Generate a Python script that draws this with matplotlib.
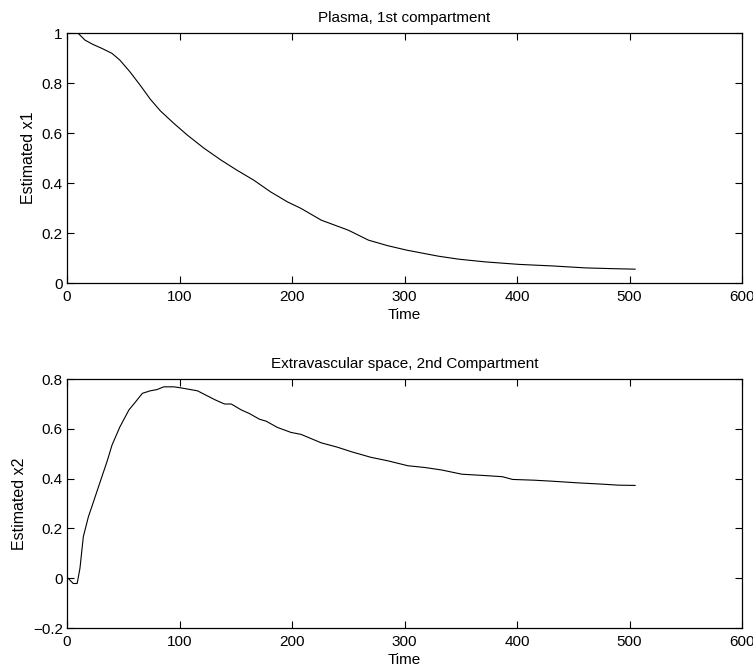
import matplotlib
matplotlib.use('Agg')
import matplotlib.pyplot as plt

# Plasma, 1st compartment
t1 = [0, 5, 10, 16, 23, 31, 40, 47, 56, 65, 74, 83, 95, 107, 122, 137, 151,
      166, 181, 196, 208, 226, 250, 268, 285, 302, 330, 348, 372, 402, 431,
      461, 485, 505]
x1 = [1.0, 1.0, 0.999, 0.972, 0.955, 0.939, 0.919, 0.892, 0.845, 0.792,
      0.736, 0.689, 0.639, 0.592, 0.539, 0.492, 0.452, 0.412, 0.365, 0.325,
      0.299, 0.252, 0.212, 0.172, 0.150, 0.132, 0.108, 0.096, 0.085, 0.075,
      0.069, 0.061, 0.058, 0.056]

# Extravascular space, 2nd compartment
t2 = [0, 1, 5.5, 9, 11.5, 14.5, 19, 23.5, 29.5, 35.5, 40, 47, 55, 61, 67,
      74, 80, 86, 95, 101, 116, 125, 132, 140, 146, 155, 162, 171, 177, 187,
      199, 208, 226, 240, 253, 270, 285, 303, 318, 333, 351, 370, 387, 396,
      415, 431, 455, 476, 490, 505]
x2 = [0.0, 0.0, -0.021, -0.021, 0.04, 0.167, 0.247, 0.307, 0.388, 0.468,
      0.535, 0.608, 0.676, 0.709, 0.743, 0.753, 0.758, 0.769, 0.769, 0.765,
      0.753, 0.732, 0.716, 0.700, 0.700, 0.676, 0.662, 0.639, 0.631, 0.606,
      0.586, 0.578, 0.544, 0.527, 0.508, 0.486, 0.472, 0.452, 0.445, 0.435,
      0.418, 0.413, 0.408, 0.397, 0.394, 0.390, 0.383, 0.378, 0.374, 0.373]

plt.rcParams['font.family'] = ['Liberation Sans', 'DejaVu Sans']
plt.rcParams['font.size'] = 11

fig = plt.figure(figsize=(7.53, 6.71), dpi=100)
ax1 = fig.add_axes([0.089, 0.578, 0.8964, 0.3726])
ax2 = fig.add_axes([0.089, 0.064, 0.8964, 0.371])


def style(ax):
    ax.set_xlim(0, 600)
    ax.set_xticks(range(0, 601, 100))
    ax.tick_params(direction='in', top=True, right=True, length=5, width=0.8,
                   labelsize=11)
    ax.tick_params(axis='x', pad=5)
    ax.tick_params(axis='y', pad=3)
    for s in ax.spines.values():
        s.set_linewidth(0.9)


ax1.plot(t1, x1, color='black', lw=0.8)
ax1.set_ylim(0, 1)
ax1.set_yticks([0, 0.2, 0.4, 0.6, 0.8, 1])
ax1.set_yticklabels(['0', '0.2', '0.4', '0.6', '0.8', '1'])
ax1.set_title('Plasma, 1st compartment', fontsize=11, pad=8)
ax1.set_xlabel('Time', labelpad=3)
ax1.set_ylabel('Estimated x1', fontsize=11.5, labelpad=4)
style(ax1)

ax2.plot(t2, x2, color='black', lw=0.8)
ax2.set_ylim(-0.2, 0.8)
ax2.set_yticks([-0.2, 0, 0.2, 0.4, 0.6, 0.8])
ax2.set_yticklabels(['\u22120.2', '0', '0.2', '0.4', '0.6', '0.8'])
ax2.set_title('Extravascular space, 2nd Compartment', fontsize=11, pad=8)
ax2.set_xlabel('Time', labelpad=3)
ax2.set_ylabel('Estimated x2', fontsize=11.5, labelpad=4)
style(ax2)

fig.savefig('out.png', dpi=100)
